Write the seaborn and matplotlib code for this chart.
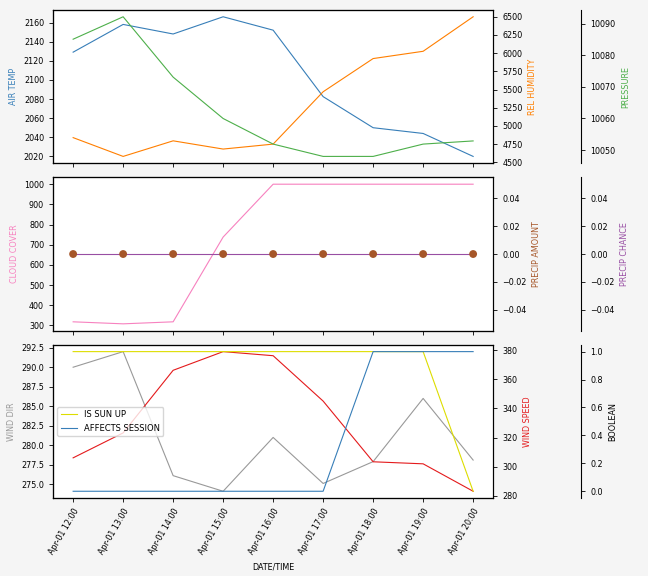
import matplotlib
matplotlib.use("Agg")
import matplotlib.pyplot as plt
import matplotlib.dates as mdates
from matplotlib.ticker import MultipleLocator
import seaborn as sns
import pandas as pd

# ---- data ----
times = ["2024-04-01 12:00", "2024-04-01 13:00", "2024-04-01 14:00",
         "2024-04-01 15:00", "2024-04-01 16:00", "2024-04-01 17:00",
         "2024-04-01 18:00", "2024-04-01 19:00", "2024-04-01 20:00"]
air_temp = [2129, 2158, 2148, 2166, 2152, 2082.5, 2050, 2044, 2020]
rel_humidity = [4840, 4582, 4796, 4683, 4751, 5470, 5926, 6026, 6500]
pressure = [10085.1, 10092.2, 10073.1, 10060.0, 10051.9, 10048.0, 10048.0, 10051.9, 10052.9]
cloud_cover = [318, 308, 318, 738, 1000, 1000, 1000, 1000, 1000]
precip_amount = [0, 0, 0, 0, 0, 0, 0, 0, 0]
precip_chance = [0, 0, 0, 0, 0, 0, 0, 0, 0]
wind_dir = [290.0, 292.0, 276.1, 274.1, 281.0, 275.1, 277.9, 286.0, 278.1]
wind_speed = [306.1, 323.2, 366.1, 378.9, 376.1, 345.0, 303.4, 302.0, 283.2]
is_sun_up = [1, 1, 1, 1, 1, 1, 1, 1, 0]
affects_session = [0, 0, 0, 0, 0, 0, 1, 1, 1]

dt = pd.to_datetime(times)

FS = 5.8
LW = 0.8
C = dict(blue="#377eb8", orange="#ff7f00", green="#4daf4a", pink="#f781bf",
         brown="#a65628", purple="#984ea3", gray="#999999", red="#e41a1c",
         yellow="#dddd00")

fig, axes = plt.subplots(3, 1, sharex=True, figsize=(6.48, 5.76), dpi=100)
fig.patch.set_facecolor("#f5f5f5")
fig.subplots_adjust(left=0.082, right=0.761, top=0.983, bottom=0.135, hspace=0.09)


def make_twins(ax):
    t1 = ax.twinx()
    t2 = ax.twinx()
    t2.spines["right"].set_position(("axes", 1.2))
    for a in (ax, t1, t2):
        a.tick_params(labelsize=FS, length=3, width=0.6)
    return t1, t2


def style(a, label, color, step):
    a.set_ylabel(label, color=color, fontsize=FS)
    a.yaxis.set_major_locator(MultipleLocator(step))


# ---- top panel ----
ax = axes[0]
t1, t2 = make_twins(ax)
sns.lineplot(x=dt, y=air_temp, ax=ax, color=C["blue"], linewidth=LW)
sns.lineplot(x=dt, y=rel_humidity, ax=t1, color=C["orange"], linewidth=LW)
sns.lineplot(x=dt, y=pressure, ax=t2, color=C["green"], linewidth=LW)
style(ax, "AIR TEMP", C["blue"], 20)
style(t1, "REL HUMIDITY", C["orange"], 250)
style(t2, "PRESSURE", C["green"], 10)

# ---- middle panel ----
ax = axes[1]
t1, t2 = make_twins(ax)
sns.lineplot(x=dt, y=cloud_cover, ax=ax, color=C["pink"], linewidth=LW)
sns.scatterplot(x=dt, y=precip_amount, ax=t1, color=C["brown"], s=32,
                edgecolor="none", zorder=3)
sns.lineplot(x=dt, y=precip_chance, ax=t2, color=C["purple"], linewidth=LW)
t1.set_zorder(ax.get_zorder() + 2)
t2.set_zorder(ax.get_zorder() + 1)
t1.margins(x=0.05)
style(ax, "CLOUD COVER", C["pink"], 100)
style(t1, "PRECIP AMOUNT", C["brown"], 0.02)
style(t2, "PRECIP CHANCE", C["purple"], 0.02)

# ---- bottom panel ----
ax = axes[2]
t1, t2 = make_twins(ax)
sns.lineplot(x=dt, y=wind_dir, ax=ax, color=C["gray"], linewidth=LW)
sns.lineplot(x=dt, y=wind_speed, ax=t1, color=C["red"], linewidth=LW)
sns.lineplot(x=dt, y=is_sun_up, ax=t2, color=C["yellow"], linewidth=LW, label="IS SUN UP")
sns.lineplot(x=dt, y=affects_session, ax=t2, color=C["blue"], linewidth=LW, label="AFFECTS SESSION")
style(ax, "WIND DIR", C["gray"], 2.5)
style(t1, "WIND SPEED", C["red"], 20)
style(t2, "BOOLEAN", "black", 0.2)
t2.legend(loc="center left", fontsize=6)

ax.xaxis.set_major_locator(mdates.HourLocator())
ax.xaxis.set_major_formatter(mdates.DateFormatter("%b-%d %H:%M"))
for lbl in ax.get_xticklabels():
    lbl.set_rotation(60)
    lbl.set_ha("right")
    lbl.set_rotation_mode("anchor")
ax.set_xlabel("DATE/TIME", fontsize=FS)
for a in axes[:2]:
    a.set_xlabel("")

fig.savefig("out.png", dpi=100, facecolor=fig.get_facecolor())
